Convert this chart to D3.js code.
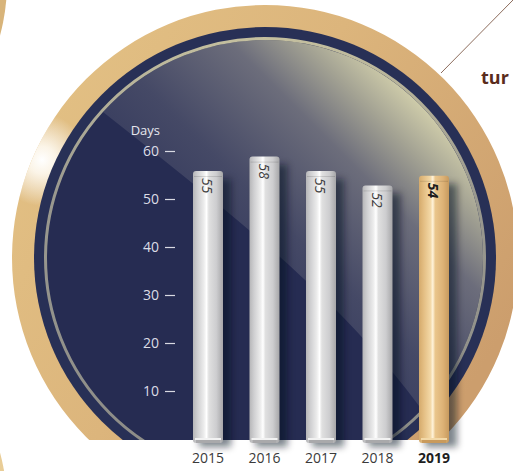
<!DOCTYPE html>
<html>
<head>
<meta charset="utf-8">
<script src="https://cdn.jsdelivr.net/npm/d3@7"></script>
<style>
  html, body { margin: 0; padding: 0; background: #ffffff; }
  svg { display: block; font-family: "Open Sans", "DejaVu Sans", sans-serif; }
</style>
</head>
<body>
<div id="chart"></div>
<script>
// data
const years = ["2015", "2016", "2017", "2018", "2019"];
const days = [55, 58, 55, 52, 54];
const tickValues = [10, 20, 30, 40, 50, 60];
const highlightYear = "2019";

const width = 513, height = 471;
const cx = 265, cy = 258;
const cutY = 440;

const svg = d3.select("#chart").append("svg")
    .attr("width", width)
    .attr("height", height);

const defs = svg.append("defs");

function linGrad(id, stops, attrs) {
    const g = defs.append("linearGradient").attr("id", id);
    Object.entries(attrs || {}).forEach(([k, v]) => g.attr(k, v));
    stops.forEach(s => g.append("stop").attr("offset", s[0]).attr("stop-color", s[1])
        .attr("stop-opacity", s[2] === undefined ? 1 : s[2]));
    return g;
}

linGrad("gold-ring", [[0, "#e4c386"], [0.5, "#dcb57c"], [1, "#cc9e6d"]],
    { x1: "0%", y1: "0%", x2: "100%", y2: "60%" });
linGrad("line-ring", [[0, "#c4bf9f"], [0.35, "#9a998f"], [1, "#8b8b87"]],
    { x1: "0%", y1: "0%", x2: "0%", y2: "100%" });
linGrad("inner-light", [
    [0, "#2f355a"], [0.33, "#454966"], [0.6, "#6c6d7b"],
    [0.75, "#a3a293"], [0.88, "#d3d0ac"], [1, "#dedab5"]
], { gradientUnits: "userSpaceOnUse", x1: 230, y1: 330, x2: 470, y2: 90 });
linGrad("bar-silver", [
    [0, "#b6b6b8"], [0.15, "#cfcfd1"], [0.36, "#ececec"], [0.45, "#ffffff"],
    [0.53, "#e0e0e0"], [0.78, "#cdcdcf"], [1, "#a6a6a8"]
]);
linGrad("bar-gold", [
    [0, "#d4aa6c"], [0.15, "#e3bd82"], [0.38, "#f3d8a6"], [0.46, "#fff3da"],
    [0.54, "#eac68c"], [0.8, "#ddb276"], [1, "#c79a5e"]
]);

// highlight on the gold ring; coordinates are relative to the medallion centre
const hl = defs.append("radialGradient").attr("id", "ring-hl")
    .attr("gradientUnits", "userSpaceOnUse")
    .attr("cx", 42 - cx).attr("cy", 160 - cy).attr("r", 46);
hl.append("stop").attr("offset", 0).attr("stop-color", "#ffffff").attr("stop-opacity", 1);
hl.append("stop").attr("offset", 0.3).attr("stop-color", "#fefaf2").attr("stop-opacity", 0.9);
hl.append("stop").attr("offset", 1).attr("stop-color", "#ffffff").attr("stop-opacity", 0);

defs.append("clipPath").attr("id", "cut")
    .append("rect").attr("x", 0).attr("y", 0).attr("width", width).attr("height", cutY);
defs.append("clipPath").attr("id", "disk")
    .append("circle").attr("cx", cx).attr("cy", cy).attr("r", 218);

defs.append("filter").attr("id", "blur")
    .attr("x", "-50%").attr("y", "-20%").attr("width", "200%").attr("height", "140%")
    .append("feGaussianBlur").attr("stdDeviation", 3.5);

// neighbouring decorative circles at the left edge
svg.append("circle").attr("cx", -193).attr("cy", -17).attr("r", 200).attr("fill", "#d8b47a");
svg.append("circle").attr("cx", -193).attr("cy", 505).attr("r", 200).attr("fill", "#e9cd97");

// pointer line and cut-off heading at the top right
svg.append("line").attr("x1", 514).attr("y1", -1).attr("x2", 441).attr("y2", 73)
    .attr("stroke", "#8c6c5c").attr("stroke-width", 1);
svg.append("text").attr("x", 481).attr("y", 84)
    .attr("font-size", 18).attr("font-weight", 700).attr("fill", "#5a2c1c")
    .text("tur");

// the medallion
const medal = svg.append("g").attr("clip-path", "url(#cut)");
const ringArc = d3.arc().startAngle(0).endAngle(2 * Math.PI);

medal.append("path").attr("transform", `translate(${cx},${cy})`)
    .attr("d", ringArc({ innerRadius: 230, outerRadius: 253 }))
    .attr("fill", "url(#gold-ring)");
medal.append("path").attr("transform", `translate(${cx},${cy})`)
    .attr("d", ringArc({ innerRadius: 230, outerRadius: 253 }))
    .attr("fill", "url(#ring-hl)");
medal.append("circle").attr("cx", cx).attr("cy", cy).attr("r", 231).attr("fill", "#283056");
medal.append("circle").attr("cx", cx).attr("cy", cy).attr("r", 218).attr("fill", "#262c52");

medal.append("g").attr("clip-path", "url(#disk)")
    .append("path")
    .attr("d", "M20,46 L103,112 C250,228 365,318 448,448 L520,448 L520,-10 L20,-10 Z")
    .attr("fill", "url(#inner-light)");

medal.append("circle").attr("cx", cx).attr("cy", cy).attr("r", 219.5)
    .attr("fill", "none").attr("stroke", "url(#line-ring)").attr("stroke-width", 3);

// scales
const x = d3.scaleBand().domain(years).range([179.75, 462.25])
    .paddingInner(0.469).paddingOuter(0.2345);
const y = d3.scaleLinear().domain([0, 60]).range([439, 151]);
const barBottom = y(0) + 4;

// y axis
const axis = svg.append("g").attr("transform", "translate(175,0)")
    .call(d3.axisLeft(y).tickValues(tickValues).tickSize(10).tickPadding(6));
axis.select(".domain").remove();
axis.selectAll(".tick line").attr("stroke", "#d9dae3").attr("stroke-width", 1.2);
axis.selectAll(".tick text")
    .attr("fill", "#dcdde6").attr("font-size", 14)
    .attr("font-family", "'Open Sans', sans-serif");

svg.append("text").attr("x", 160).attr("y", 135).attr("text-anchor", "end")
    .attr("font-size", 13).attr("fill", "#e6e7ee").text("Days");

// bars
const bars = svg.append("g").selectAll("g.bar")
    .data(years.map((yr, i) => ({ year: yr, value: days[i] })))
    .join("g").attr("class", "bar");

bars.append("rect")
    .attr("x", d => x(d.year) + 6)
    .attr("y", d => y(d.value) + 4)
    .attr("width", x.bandwidth() + 2)
    .attr("height", d => barBottom + 4 - y(d.value) - 4)
    .attr("fill", "#05081a").attr("opacity", 0.5)
    .attr("filter", "url(#blur)");

bars.append("rect")
    .attr("x", d => x(d.year))
    .attr("y", d => y(d.value) - 4)
    .attr("width", x.bandwidth())
    .attr("height", d => barBottom - (y(d.value) - 4))
    .attr("rx", 3)
    .attr("fill", d => d.year === highlightYear ? "url(#bar-gold)" : "url(#bar-silver)");

// top rim
bars.append("line")
    .attr("x1", d => x(d.year) + 1).attr("x2", d => x(d.year) + x.bandwidth() - 1)
    .attr("y1", d => y(d.value) + 1.5).attr("y2", d => y(d.value) + 1.5)
    .attr("stroke", "#000").attr("stroke-opacity", 0.12).attr("stroke-width", 1);

// bottom rim
bars.append("rect")
    .attr("x", d => x(d.year) + 2)
    .attr("y", barBottom - 5)
    .attr("width", x.bandwidth() - 4)
    .attr("height", 2)
    .attr("fill", d => d.year === highlightYear ? "#f3d9a8" : "#f2f2f2");
bars.append("rect")
    .attr("x", d => x(d.year) + 3)
    .attr("y", barBottom - 3)
    .attr("width", x.bandwidth() - 6)
    .attr("height", 3)
    .attr("fill", d => d.year === highlightYear ? "#c99a5c" : "#a9a9ab");

// value labels, rotated
bars.append("text")
    .attr("transform", d => `translate(${x(d.year) + x.bandwidth() / 2 - 6},${y(d.value) + 3}) rotate(90)`)
    .attr("font-size", 14)
    .attr("font-style", "italic")
    .attr("font-weight", d => d.year === highlightYear ? 700 : 400)
    .attr("fill", d => d.year === highlightYear ? "#1c1c1c" : "#3c3c3c")
    .text(d => d.value);

// year labels
svg.append("g").selectAll("text")
    .data(years)
    .join("text")
    .attr("x", d => x(d) + x.bandwidth() / 2)
    .attr("y", 463)
    .attr("text-anchor", "middle")
    .attr("font-size", 14)
    .attr("font-weight", d => d === highlightYear ? 700 : 400)
    .attr("fill", d => d === highlightYear ? "#1e1e1e" : "#3a3a3a")
    .text(d => d);
</script>
</body>
</html>
